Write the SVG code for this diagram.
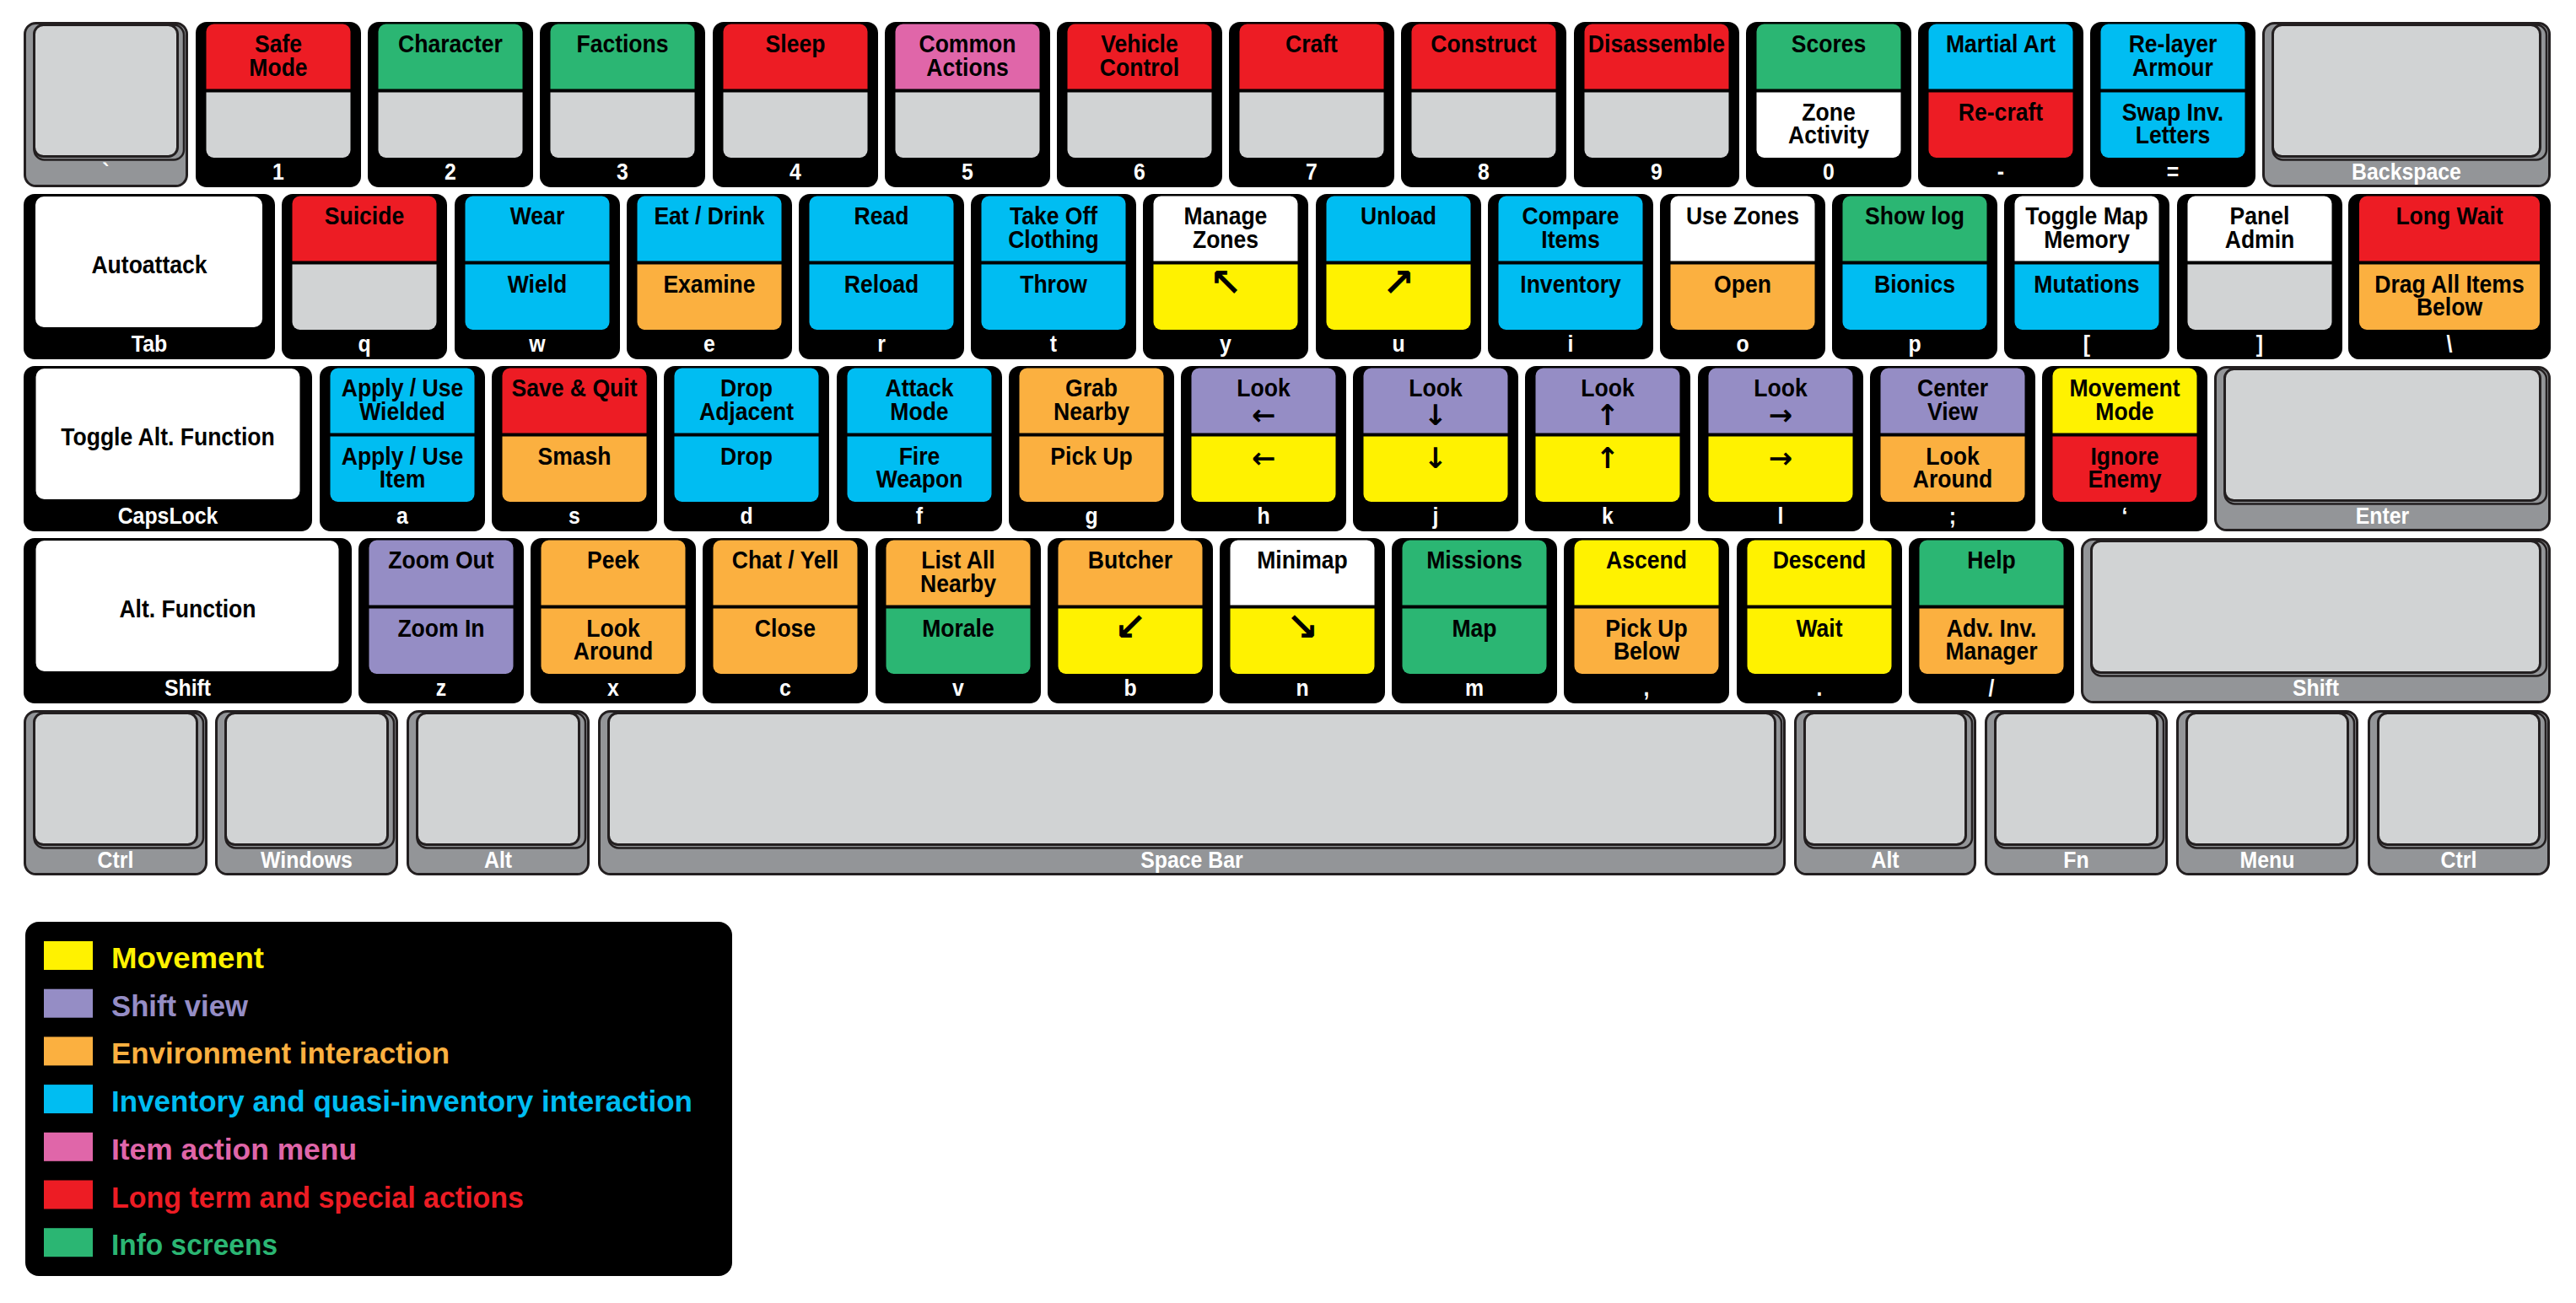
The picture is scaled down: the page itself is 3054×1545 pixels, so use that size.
<svg xmlns="http://www.w3.org/2000/svg" xmlns:xlink="http://www.w3.org/1999/xlink" width="3054" height="1545" viewBox="0 0 3054 1545">
<style>
.a{font-family:"Liberation Sans",Arial,sans-serif;font-weight:700;font-size:29.5px;text-anchor:middle;fill:#000;transform-box:fill-box;transform-origin:center;transform:scaleX(.9)}
.l{font-family:"Liberation Sans",Arial,sans-serif;font-weight:700;font-size:27px;text-anchor:middle;fill:#fff;transform-box:fill-box;transform-origin:center;transform:scaleX(.92)}
.ar{font-family:"DejaVu Sans",sans-serif;font-weight:700;font-size:34px;text-anchor:middle;fill:#000}
.ad{font-family:"DejaVu Sans",sans-serif;font-weight:700;font-size:46px;text-anchor:middle;fill:#000}
.lg{font-family:"Liberation Sans",Arial,sans-serif;font-weight:700;font-size:35px}
.go{fill:#939598;stroke:#231f20;stroke-width:3}
.gs{fill:#939598;stroke:#231f20;stroke-width:2.5}
.gi{fill:#d1d3d4;stroke:#231f20;stroke-width:3}
.r{fill:#ed1c24}.gn{fill:#2bb673}.b{fill:#00bdf2}.y{fill:#fff200}.o{fill:#fbb040}.p{fill:#958dc5}.pk{fill:#e066a9}.w{fill:#ffffff}.g{fill:#d1d3d4}
</style>
<defs>
<rect id="kb" width="196" height="196" rx="13"/>
<path id="kt" d="M12.5,79.5 V11.5 a9,9 0 0 1 9,-9 H174.5 a9,9 0 0 1 9,9 V79.5 Z"/>
<path id="kbm" d="M12.5,83.5 H183.5 V152 a9,9 0 0 1 -9,9 H21.5 a9,9 0 0 1 -9,-9 Z"/>
</defs>
<rect width="3054" height="1545" fill="#fff"/>

<!-- Row 1 -->
<g id="k-grave" transform="translate(28,26)"><rect class="go" x="1.5" y="1.5" width="192" height="193" rx="13"/><rect class="gs" x="12.5" y="3.5" width="177.5" height="160" rx="12"/><rect class="gi" x="12.5" y="3.5" width="170" height="156" rx="11"/><text class="l" x="97.5" y="187">`</text></g>
<g id="k-1" transform="translate(232,26)"><use href="#kb"/><use href="#kt" class="r"/><use href="#kbm" class="g"/><text class="a" x="98" y="36.5">Safe</text><text class="a" x="98" y="64">Mode</text><text class="l" x="98" y="187">1</text></g>
<g id="k-2" transform="translate(436,26)"><use href="#kb"/><use href="#kt" class="gn"/><use href="#kbm" class="g"/><text class="a" x="98" y="36.5">Character</text><text class="l" x="98" y="187">2</text></g>
<g id="k-3" transform="translate(640,26)"><use href="#kb"/><use href="#kt" class="gn"/><use href="#kbm" class="g"/><text class="a" x="98" y="36.5">Factions</text><text class="l" x="98" y="187">3</text></g>
<g id="k-4" transform="translate(845,26)"><use href="#kb"/><use href="#kt" class="r"/><use href="#kbm" class="g"/><text class="a" x="98" y="36.5">Sleep</text><text class="l" x="98" y="187">4</text></g>
<g id="k-5" transform="translate(1049,26)"><use href="#kb"/><use href="#kt" class="pk"/><use href="#kbm" class="g"/><text class="a" x="98" y="36.5">Common</text><text class="a" x="98" y="64">Actions</text><text class="l" x="98" y="187">5</text></g>
<g id="k-6" transform="translate(1253,26)"><use href="#kb"/><use href="#kt" class="r"/><use href="#kbm" class="g"/><text class="a" x="98" y="36.5">Vehicle</text><text class="a" x="98" y="64">Control</text><text class="l" x="98" y="187">6</text></g>
<g id="k-7" transform="translate(1457,26)"><use href="#kb"/><use href="#kt" class="r"/><use href="#kbm" class="g"/><text class="a" x="98" y="36.5">Craft</text><text class="l" x="98" y="187">7</text></g>
<g id="k-8" transform="translate(1661,26)"><use href="#kb"/><use href="#kt" class="r"/><use href="#kbm" class="g"/><text class="a" x="98" y="36.5">Construct</text><text class="l" x="98" y="187">8</text></g>
<g id="k-9" transform="translate(1866,26)"><use href="#kb"/><use href="#kt" class="r"/><use href="#kbm" class="g"/><text class="a" x="98" y="36.5">Disassemble</text><text class="l" x="98" y="187">9</text></g>
<g id="k-0" transform="translate(2070,26)"><use href="#kb"/><use href="#kt" class="gn"/><use href="#kbm" class="w"/><text class="a" x="98" y="36.5">Scores</text><text class="a" x="98" y="117">Zone</text><text class="a" x="98" y="144.5">Activity</text><text class="l" x="98" y="187">0</text></g>
<g id="k-minus" transform="translate(2274,26)"><use href="#kb"/><use href="#kt" class="b"/><use href="#kbm" class="r"/><text class="a" x="98" y="36.5">Martial Art</text><text class="a" x="98" y="117">Re-craft</text><text class="l" x="98" y="187">-</text></g>
<g id="k-equal" transform="translate(2478,26)"><use href="#kb"/><use href="#kt" class="b"/><use href="#kbm" class="b"/><text class="a" x="98" y="36.5">Re-layer</text><text class="a" x="98" y="64">Armour</text><text class="a" x="98" y="117">Swap Inv.</text><text class="a" x="98" y="144.5">Letters</text><text class="l" x="98" y="187">=</text></g>
<g id="k-backspace" transform="translate(2682,26)"><rect class="go" x="1.5" y="1.5" width="339" height="193" rx="13"/><rect class="gs" x="12.5" y="3.5" width="324.5" height="160" rx="12"/><rect class="gi" x="12.5" y="3.5" width="317" height="156" rx="11"/><text class="l" x="171" y="187">Backspace</text></g>

<!-- Row 2 -->
<g id="k-tab" transform="translate(28,230)"><rect width="298" height="196" rx="13"/><rect class="w" x="14" y="3" width="269" height="155" rx="10"/><text class="a" x="149" y="94">Autoattack</text><text class="l" x="149" y="187">Tab</text></g>
<g id="k-q" transform="translate(334,230)"><use href="#kb"/><use href="#kt" class="r"/><use href="#kbm" class="g"/><text class="a" x="98" y="36.5">Suicide</text><text class="l" x="98" y="187">q</text></g>
<g id="k-w" transform="translate(539,230)"><use href="#kb"/><use href="#kt" class="b"/><use href="#kbm" class="b"/><text class="a" x="98" y="36.5">Wear</text><text class="a" x="98" y="117">Wield</text><text class="l" x="98" y="187">w</text></g>
<g id="k-e" transform="translate(743,230)"><use href="#kb"/><use href="#kt" class="b"/><use href="#kbm" class="o"/><text class="a" x="98" y="36.5">Eat / Drink</text><text class="a" x="98" y="117">Examine</text><text class="l" x="98" y="187">e</text></g>
<g id="k-r" transform="translate(947,230)"><use href="#kb"/><use href="#kt" class="b"/><use href="#kbm" class="b"/><text class="a" x="98" y="36.5">Read</text><text class="a" x="98" y="117">Reload</text><text class="l" x="98" y="187">r</text></g>
<g id="k-t" transform="translate(1151,230)"><use href="#kb"/><use href="#kt" class="b"/><use href="#kbm" class="b"/><text class="a" x="98" y="36.5">Take Off</text><text class="a" x="98" y="64">Clothing</text><text class="a" x="98" y="117">Throw</text><text class="l" x="98" y="187">t</text></g>
<g id="k-y" transform="translate(1355,230)"><use href="#kb"/><use href="#kt" class="w"/><use href="#kbm" class="y"/><text class="a" x="98" y="36.5">Manage</text><text class="a" x="98" y="64">Zones</text><text class="ad" x="98" y="121">↖</text><text class="l" x="98" y="187">y</text></g>
<g id="k-u" transform="translate(1560,230)"><use href="#kb"/><use href="#kt" class="b"/><use href="#kbm" class="y"/><text class="a" x="98" y="36.5">Unload</text><text class="ad" x="98" y="121">↗</text><text class="l" x="98" y="187">u</text></g>
<g id="k-i" transform="translate(1764,230)"><use href="#kb"/><use href="#kt" class="b"/><use href="#kbm" class="b"/><text class="a" x="98" y="36.5">Compare</text><text class="a" x="98" y="64">Items</text><text class="a" x="98" y="117">Inventory</text><text class="l" x="98" y="187">i</text></g>
<g id="k-o" transform="translate(1968,230)"><use href="#kb"/><use href="#kt" class="w"/><use href="#kbm" class="o"/><text class="a" x="98" y="36.5">Use Zones</text><text class="a" x="98" y="117">Open</text><text class="l" x="98" y="187">o</text></g>
<g id="k-p" transform="translate(2172,230)"><use href="#kb"/><use href="#kt" class="gn"/><use href="#kbm" class="b"/><text class="a" x="98" y="36.5">Show log</text><text class="a" x="98" y="117">Bionics</text><text class="l" x="98" y="187">p</text></g>
<g id="k-lbracket" transform="translate(2376,230)"><use href="#kb"/><use href="#kt" class="w"/><use href="#kbm" class="b"/><text class="a" x="98" y="36.5">Toggle Map</text><text class="a" x="98" y="64">Memory</text><text class="a" x="98" y="117">Mutations</text><text class="l" x="98" y="187">[</text></g>
<g id="k-rbracket" transform="translate(2581,230)"><use href="#kb"/><use href="#kt" class="w"/><use href="#kbm" class="g"/><text class="a" x="98" y="36.5">Panel</text><text class="a" x="98" y="64">Admin</text><text class="l" x="98" y="187">]</text></g>
<g id="k-backslash" transform="translate(2784,230)"><rect width="240" height="196" rx="13"/><path class="r" d="M13,79.5 V11.5 a9,9 0 0 1 9,-9 H218 a9,9 0 0 1 9,9 V79.5 Z"/><path class="o" d="M13,83.5 H227 V152 a9,9 0 0 1 -9,9 H22 a9,9 0 0 1 -9,-9 Z"/><text class="a" x="120" y="36.5">Long Wait</text><text class="a" x="120" y="117">Drag All Items</text><text class="a" x="120" y="144.5">Below</text><text class="l" x="120" y="187">\</text></g>

<!-- Row 3 -->
<g id="k-capslock" transform="translate(28,434)"><rect width="342" height="196" rx="13"/><rect class="w" x="14.5" y="3" width="313" height="155" rx="10"/><text class="a" x="171" y="94">Toggle Alt. Function</text><text class="l" x="171" y="187">CapsLock</text></g>
<g id="k-a" transform="translate(379,434)"><use href="#kb"/><use href="#kt" class="b"/><use href="#kbm" class="b"/><text class="a" x="98" y="36.5">Apply / Use</text><text class="a" x="98" y="64">Wielded</text><text class="a" x="98" y="117">Apply / Use</text><text class="a" x="98" y="144.5">Item</text><text class="l" x="98" y="187">a</text></g>
<g id="k-s" transform="translate(583,434)"><use href="#kb"/><use href="#kt" class="r"/><use href="#kbm" class="o"/><text class="a" x="98" y="36.5">Save &amp; Quit</text><text class="a" x="98" y="117">Smash</text><text class="l" x="98" y="187">s</text></g>
<g id="k-d" transform="translate(787,434)"><use href="#kb"/><use href="#kt" class="b"/><use href="#kbm" class="b"/><text class="a" x="98" y="36.5">Drop</text><text class="a" x="98" y="64">Adjacent</text><text class="a" x="98" y="117">Drop</text><text class="l" x="98" y="187">d</text></g>
<g id="k-f" transform="translate(992,434)"><use href="#kb"/><use href="#kt" class="b"/><use href="#kbm" class="b"/><text class="a" x="98" y="36.5">Attack</text><text class="a" x="98" y="64">Mode</text><text class="a" x="98" y="117">Fire</text><text class="a" x="98" y="144.5">Weapon</text><text class="l" x="98" y="187">f</text></g>
<g id="k-g" transform="translate(1196,434)"><use href="#kb"/><use href="#kt" class="o"/><use href="#kbm" class="o"/><text class="a" x="98" y="36.5">Grab</text><text class="a" x="98" y="64">Nearby</text><text class="a" x="98" y="117">Pick Up</text><text class="l" x="98" y="187">g</text></g>
<g id="k-h" transform="translate(1400,434)"><use href="#kb"/><use href="#kt" class="p"/><use href="#kbm" class="y"/><text class="a" x="98" y="36.5">Look</text><text class="ar" x="98" y="70">←</text><text class="ar" x="98" y="121">←</text><text class="l" x="98" y="187">h</text></g>
<g id="k-j" transform="translate(1604,434)"><use href="#kb"/><use href="#kt" class="p"/><use href="#kbm" class="y"/><text class="a" x="98" y="36.5">Look</text><text class="ar" x="98" y="70">↓</text><text class="ar" x="98" y="121">↓</text><text class="l" x="98" y="187">j</text></g>
<g id="k-k" transform="translate(1808,434)"><use href="#kb"/><use href="#kt" class="p"/><use href="#kbm" class="y"/><text class="a" x="98" y="36.5">Look</text><text class="ar" x="98" y="70">↑</text><text class="ar" x="98" y="121">↑</text><text class="l" x="98" y="187">k</text></g>
<g id="k-l" transform="translate(2013,434)"><use href="#kb"/><use href="#kt" class="p"/><use href="#kbm" class="y"/><text class="a" x="98" y="36.5">Look</text><text class="ar" x="98" y="70">→</text><text class="ar" x="98" y="121">→</text><text class="l" x="98" y="187">l</text></g>
<g id="k-semicolon" transform="translate(2217,434)"><use href="#kb"/><use href="#kt" class="p"/><use href="#kbm" class="o"/><text class="a" x="98" y="36.5">Center</text><text class="a" x="98" y="64">View</text><text class="a" x="98" y="117">Look</text><text class="a" x="98" y="144.5">Around</text><text class="l" x="98" y="187">;</text></g>
<g id="k-quote" transform="translate(2421,434)"><use href="#kb"/><use href="#kt" class="y"/><use href="#kbm" class="r"/><text class="a" x="98" y="36.5">Movement</text><text class="a" x="98" y="64">Mode</text><text class="a" x="98" y="117">Ignore</text><text class="a" x="98" y="144.5">Enemy</text><text class="l" x="98" y="187">‘</text></g>
<g id="k-enter" transform="translate(2625,434)"><rect class="go" x="1.5" y="1.5" width="396" height="193" rx="13"/><rect class="gs" x="12.5" y="3.5" width="381.5" height="160" rx="12"/><rect class="gi" x="12.5" y="3.5" width="374" height="156" rx="11"/><text class="l" x="199.5" y="187">Enter</text></g>

<!-- Row 4 -->
<g id="k-lshift" transform="translate(28,638)"><rect width="389" height="196" rx="13"/><rect class="w" x="14.5" y="3" width="359" height="155" rx="10"/><text class="a" x="194.5" y="94">Alt. Function</text><text class="l" x="194.5" y="187">Shift</text></g>
<g id="k-z" transform="translate(425,638)"><use href="#kb"/><use href="#kt" class="p"/><use href="#kbm" class="p"/><text class="a" x="98" y="36.5">Zoom Out</text><text class="a" x="98" y="117">Zoom In</text><text class="l" x="98" y="187">z</text></g>
<g id="k-x" transform="translate(629,638)"><use href="#kb"/><use href="#kt" class="o"/><use href="#kbm" class="o"/><text class="a" x="98" y="36.5">Peek</text><text class="a" x="98" y="117">Look</text><text class="a" x="98" y="144.5">Around</text><text class="l" x="98" y="187">x</text></g>
<g id="k-c" transform="translate(833,638)"><use href="#kb"/><use href="#kt" class="o"/><use href="#kbm" class="o"/><text class="a" x="98" y="36.5">Chat / Yell</text><text class="a" x="98" y="117">Close</text><text class="l" x="98" y="187">c</text></g>
<g id="k-v" transform="translate(1038,638)"><use href="#kb"/><use href="#kt" class="o"/><use href="#kbm" class="gn"/><text class="a" x="98" y="36.5">List All</text><text class="a" x="98" y="64">Nearby</text><text class="a" x="98" y="117">Morale</text><text class="l" x="98" y="187">v</text></g>
<g id="k-b" transform="translate(1242,638)"><use href="#kb"/><use href="#kt" class="o"/><use href="#kbm" class="y"/><text class="a" x="98" y="36.5">Butcher</text><text class="ad" x="98" y="121">↙</text><text class="l" x="98" y="187">b</text></g>
<g id="k-n" transform="translate(1446,638)"><use href="#kb"/><use href="#kt" class="w"/><use href="#kbm" class="y"/><text class="a" x="98" y="36.5">Minimap</text><text class="ad" x="98" y="121">↘</text><text class="l" x="98" y="187">n</text></g>
<g id="k-m" transform="translate(1650,638)"><use href="#kb"/><use href="#kt" class="gn"/><use href="#kbm" class="gn"/><text class="a" x="98" y="36.5">Missions</text><text class="a" x="98" y="117">Map</text><text class="l" x="98" y="187">m</text></g>
<g id="k-comma" transform="translate(1854,638)"><use href="#kb"/><use href="#kt" class="y"/><use href="#kbm" class="o"/><text class="a" x="98" y="36.5">Ascend</text><text class="a" x="98" y="117">Pick Up</text><text class="a" x="98" y="144.5">Below</text><text class="l" x="98" y="187">,</text></g>
<g id="k-period" transform="translate(2059,638)"><use href="#kb"/><use href="#kt" class="y"/><use href="#kbm" class="y"/><text class="a" x="98" y="36.5">Descend</text><text class="a" x="98" y="117">Wait</text><text class="l" x="98" y="187">.</text></g>
<g id="k-slash" transform="translate(2263,638)"><use href="#kb"/><use href="#kt" class="gn"/><use href="#kbm" class="o"/><text class="a" x="98" y="36.5">Help</text><text class="a" x="98" y="117">Adv. Inv.</text><text class="a" x="98" y="144.5">Manager</text><text class="l" x="98" y="187">/</text></g>
<g id="k-rshift" transform="translate(2467,638)"><rect class="go" x="1.5" y="1.5" width="554" height="193" rx="13"/><rect class="gs" x="12.5" y="3.5" width="539.5" height="160" rx="12"/><rect class="gi" x="12.5" y="3.5" width="532" height="156" rx="11"/><text class="l" x="278.5" y="187">Shift</text></g>

<!-- Row 5 -->
<g id="k-lctrl" transform="translate(28,842)"><rect class="go" x="1.5" y="1.5" width="215" height="193" rx="13"/><rect class="gs" x="12.5" y="3.5" width="200.5" height="160" rx="12"/><rect class="gi" x="12.5" y="3.5" width="193" height="156" rx="11"/><text class="l" x="109" y="187">Ctrl</text></g>
<g id="k-windows" transform="translate(255,842)"><rect class="go" x="1.5" y="1.5" width="214" height="193" rx="13"/><rect class="gs" x="12.5" y="3.5" width="199.5" height="160" rx="12"/><rect class="gi" x="12.5" y="3.5" width="192" height="156" rx="11"/><text class="l" x="108.5" y="187">Windows</text></g>
<g id="k-lalt" transform="translate(482,842)"><rect class="go" x="1.5" y="1.5" width="214" height="193" rx="13"/><rect class="gs" x="12.5" y="3.5" width="199.5" height="160" rx="12"/><rect class="gi" x="12.5" y="3.5" width="192" height="156" rx="11"/><text class="l" x="108.5" y="187">Alt</text></g>
<g id="k-space" transform="translate(709,842)"><rect class="go" x="1.5" y="1.5" width="1405" height="193" rx="13"/><rect class="gs" x="12.5" y="3.5" width="1390.5" height="160" rx="12"/><rect class="gi" x="12.5" y="3.5" width="1383" height="156" rx="11"/><text class="l" x="704" y="187">Space Bar</text></g>
<g id="k-ralt" transform="translate(2127,842)"><rect class="go" x="1.5" y="1.5" width="213" height="193" rx="13"/><rect class="gs" x="12.5" y="3.5" width="198.5" height="160" rx="12"/><rect class="gi" x="12.5" y="3.5" width="191" height="156" rx="11"/><text class="l" x="108" y="187">Alt</text></g>
<g id="k-fn" transform="translate(2353,842)"><rect class="go" x="1.5" y="1.5" width="214" height="193" rx="13"/><rect class="gs" x="12.5" y="3.5" width="199.5" height="160" rx="12"/><rect class="gi" x="12.5" y="3.5" width="192" height="156" rx="11"/><text class="l" x="108.5" y="187">Fn</text></g>
<g id="k-menu" transform="translate(2580,842)"><rect class="go" x="1.5" y="1.5" width="213" height="193" rx="13"/><rect class="gs" x="12.5" y="3.5" width="198.5" height="160" rx="12"/><rect class="gi" x="12.5" y="3.5" width="191" height="156" rx="11"/><text class="l" x="108" y="187">Menu</text></g>
<g id="k-rctrl" transform="translate(2807,842)"><rect class="go" x="1.5" y="1.5" width="213" height="193" rx="13"/><rect class="gs" x="12.5" y="3.5" width="198.5" height="160" rx="12"/><rect class="gi" x="12.5" y="3.5" width="191" height="156" rx="11"/><text class="l" x="108" y="187">Ctrl</text></g>

<!-- Legend -->
<g id="legend">
<rect x="30" y="1093" width="838" height="420" rx="16" fill="#000"/>
<rect class="y" x="52" y="1116" width="58" height="34"/><text class="lg y" x="132" y="1148" textLength="181" lengthAdjust="spacingAndGlyphs">Movement</text>
<rect class="p" x="52" y="1172.7" width="58" height="34"/><text class="lg p" x="132" y="1204.7" textLength="162" lengthAdjust="spacingAndGlyphs">Shift view</text>
<rect class="o" x="52" y="1229.4" width="58" height="34"/><text class="lg o" x="132" y="1261.4" textLength="401" lengthAdjust="spacingAndGlyphs">Environment interaction</text>
<rect class="b" x="52" y="1286.1" width="58" height="34"/><text class="lg b" x="132" y="1318.1" textLength="689" lengthAdjust="spacingAndGlyphs">Inventory and quasi-inventory interaction</text>
<rect class="pk" x="52" y="1342.8" width="58" height="34"/><text class="lg pk" x="132" y="1374.8" textLength="291" lengthAdjust="spacingAndGlyphs">Item action menu</text>
<rect class="r" x="52" y="1399.5" width="58" height="34"/><text class="lg r" x="132" y="1431.5" textLength="489" lengthAdjust="spacingAndGlyphs">Long term and special actions</text>
<rect class="gn" x="52" y="1456.2" width="58" height="34"/><text class="lg gn" x="132" y="1488.2" textLength="197" lengthAdjust="spacingAndGlyphs">Info screens</text>
</g>
</svg>
